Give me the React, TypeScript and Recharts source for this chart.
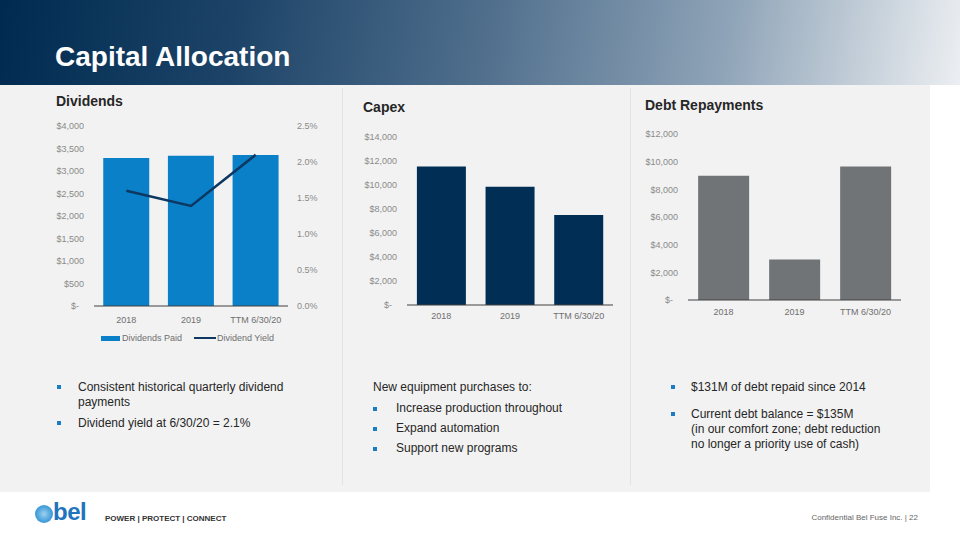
import React from "react";
import {
  ComposedChart,
  BarChart,
  Bar,
  Line,
  XAxis,
  YAxis,
} from "recharts";

const YEARS = ["2018", "2019", "TTM 6/30/20"];
const DIVIDENDS_PAID = [3290, 3340, 3355];
const DIVIDEND_YIELD = [1.6, 1.39, 2.1];
const CAPEX = [11550, 9850, 7490];
const DEBT_REPAID = [8975, 2925, 9650];

const DIV_TICKS = [0, 500, 1000, 1500, 2000, 2500, 3000, 3500, 4000];
const YIELD_TICKS = [0, 0.5, 1, 1.5, 2, 2.5];
const CAPEX_TICKS = [0, 2000, 4000, 6000, 8000, 10000, 12000, 14000];
const DEBT_TICKS = [0, 2000, 4000, 6000, 8000, 10000, 12000];

const FONT = "'Liberation Sans', Arial, sans-serif";
const DIV_BLUE = "#0a80c8";
const YIELD_NAVY = "#0d3862";
const CAPEX_NAVY = "#002e55";
const DEBT_GREY = "#717477";

const divData = YEARS.map((y, i) => ({ year: y, paid: DIVIDENDS_PAID[i], yld: DIVIDEND_YIELD[i] }));
const capexData = YEARS.map((y, i) => ({ year: y, capex: CAPEX[i] }));
const debtData = YEARS.map((y, i) => ({ year: y, debt: DEBT_REPAID[i] }));

const dollars = (v: number) => (v === 0 ? "$-\u00a0\u00a0" : "$" + v.toLocaleString("en-US"));
const pct = (v: number) => v.toFixed(1) + "%";

const yTick = { fontSize: 9, fill: "#8a8a8a", fontFamily: FONT };
const xTick = { fontSize: 9, fill: "#6f6f6f", fontFamily: FONT };
const axisLine = { stroke: "#404040", strokeWidth: 1 };

const abs = (left: number, top: number): React.CSSProperties => ({ position: "absolute", left, top });

function Bullet({ x, y }: { x: number; y: number }) {
  return <div style={{ ...abs(x, y), width: 4, height: 4, background: "#1a7dc4" }} />;
}

function Txt({ x, y, children, w = 260 }: { x: number; y: number; children: React.ReactNode; w?: number }) {
  return (
    <div style={{ ...abs(x, y), width: w, fontSize: 12, lineHeight: "15px", color: "#262626", fontFamily: FONT }}>
      {children}
    </div>
  );
}

function Title({ x, y, children }: { x: number; y: number; children: React.ReactNode }) {
  return (
    <div style={{ ...abs(x, y), fontSize: 14, fontWeight: 700, color: "#262626", fontFamily: FONT, lineHeight: "16px" }}>
      {children}
    </div>
  );
}

export default function App() {
  return (
    <div style={{ position: "absolute", left: 0, top: 0, width: 960, height: 540, background: "#ffffff", overflow: "hidden", fontFamily: FONT }}>
      {/* header */}
      <div
        style={{
          ...abs(0, 0),
          width: 960,
          height: 85,
          background: "linear-gradient(100deg, #002a50 0%, #1d4468 25%, #4f6e8c 50%, #8ea3b7 75%, #eceff2 100%)",
        }}
      />
      <div style={{ ...abs(55, 40), fontSize: 28, fontWeight: 700, color: "#ffffff", lineHeight: "34px" }}>
        Capital Allocation
      </div>

      {/* panel */}
      <div style={{ ...abs(0, 85), width: 930, height: 407, background: "#f2f2f2" }} />
      <div style={{ ...abs(342, 88), width: 1, height: 397, background: "#e3e3e3" }} />
      <div style={{ ...abs(630, 88), width: 1, height: 397, background: "#e3e3e3" }} />

      <Title x={56} y={93}>Dividends</Title>
      <Title x={363} y={99}>Capex</Title>
      <Title x={645} y={97}>Debt Repayments</Title>

      {/* dividends */}
      <div style={abs(30, 110)}>
        <ComposedChart width={310} height={230} data={divData} barCategoryGap="14.3%" margin={{ top: 16, right: 0, bottom: 0, left: 0 }}>
          <XAxis dataKey="year" tick={xTick} tickLine={false} axisLine={axisLine} height={34} tickMargin={11} tickSize={0} />
          <YAxis yAxisId="l" domain={[0, 4000]} ticks={DIV_TICKS} tickFormatter={dollars} tick={yTick} width={64} axisLine={false} tickLine={false} tickSize={0} tickMargin={10} interval={0} />
          <YAxis yAxisId="r" orientation="right" domain={[0, 2.5]} ticks={YIELD_TICKS} tickFormatter={pct} tick={{ ...yTick, textAnchor: "start" }} width={52} axisLine={false} tickLine={false} tickSize={0} tickMargin={9} interval={0} />
          <Bar yAxisId="l" dataKey="paid" fill={DIV_BLUE} isAnimationActive={false} />
          <Line yAxisId="r" dataKey="yld" stroke={YIELD_NAVY} strokeWidth={2.5} dot={false} isAnimationActive={false} />
        </ComposedChart>
      </div>
      {/* dividends legend */}
      <div style={{ ...abs(101, 336), width: 19, height: 5, background: DIV_BLUE }} />
      <div style={{ ...abs(122, 332), fontSize: 9, color: "#6f6f6f", lineHeight: "12px" }}>Dividends Paid</div>
      <div style={{ ...abs(194, 337), width: 22, height: 2, background: YIELD_NAVY }} />
      <div style={{ ...abs(217, 332), fontSize: 9, color: "#6f6f6f", lineHeight: "12px" }}>Dividend Yield</div>

      {/* capex */}
      <div style={abs(340, 115)}>
        <BarChart width={290} height={230} data={capexData} barCategoryGap="14.4%" margin={{ top: 22, right: 17, bottom: 0, left: 0 }}>
          <XAxis dataKey="year" tick={xTick} tickLine={false} axisLine={axisLine} height={40} tickMargin={8} tickSize={0} />
          <YAxis domain={[0, 14000]} ticks={CAPEX_TICKS} tickFormatter={dollars} tick={yTick} width={67} axisLine={false} tickLine={false} tickSize={0} tickMargin={10} interval={0} />
          <Bar dataKey="capex" fill={CAPEX_NAVY} isAnimationActive={false} />
        </BarChart>
      </div>

      {/* debt */}
      <div style={abs(630, 115)}>
        <BarChart width={290} height={225} data={debtData} barCategoryGap="14.3%" margin={{ top: 19, right: 19, bottom: 0, left: 0 }}>
          <XAxis dataKey="year" tick={xTick} tickLine={false} axisLine={axisLine} height={40} tickMargin={9} tickSize={0} />
          <YAxis domain={[0, 12000]} ticks={DEBT_TICKS} tickFormatter={dollars} tick={yTick} width={58} axisLine={false} tickLine={false} tickSize={0} tickMargin={10} interval={0} />
          <Bar dataKey="debt" fill={DEBT_GREY} isAnimationActive={false} />
        </BarChart>
      </div>

      {/* bullets */}
      <Bullet x={57} y={385} />
      <Txt x={78} y={380} w={230}>Consistent historical quarterly dividend payments</Txt>
      <Bullet x={57} y={421} />
      <Txt x={78} y={416}>Dividend yield at 6/30/20 = 2.1%</Txt>

      <Txt x={373} y={380}>New equipment purchases to:</Txt>
      <Bullet x={373} y={407} />
      <Txt x={396} y={401}>Increase production throughout</Txt>
      <Bullet x={373} y={427} />
      <Txt x={396} y={421}>Expand automation</Txt>
      <Bullet x={373} y={447} />
      <Txt x={396} y={441}>Support new programs</Txt>

      <Bullet x={671} y={385} />
      <Txt x={691} y={380}>$131M of debt repaid since 2014</Txt>
      <Bullet x={671} y={412} />
      <Txt x={691} y={407} w={230}>
        Current debt balance = $135M
        <br />
        (in our comfort zone; debt reduction
        <br />
        no longer a priority use of cash)
      </Txt>

      {/* footer */}
      <div
        style={{
          ...abs(35, 505),
          width: 18,
          height: 18,
          borderRadius: 9,
          background: "radial-gradient(circle, #9fd0f0 0%, #4aa3dc 55%, #2a86c8 100%)",
        }}
      />
      <div style={{ ...abs(53, 498), fontSize: 24, fontWeight: 700, color: "#1f74bb", lineHeight: "28px", letterSpacing: -0.5 }}>bel</div>
      <div style={{ ...abs(105, 514), fontSize: 8, fontWeight: 700, color: "#333333", fontFamily: "'Liberation Sans Narrow', 'Liberation Sans', sans-serif", lineHeight: "10px" }}>
        POWER | PROTECT | CONNECT
      </div>
      <div style={{ ...abs(700, 513), width: 218, textAlign: "right", fontSize: 8, color: "#666666", lineHeight: "10px" }}>
        Confidential Bel Fuse Inc. | 22
      </div>
    </div>
  );
}
